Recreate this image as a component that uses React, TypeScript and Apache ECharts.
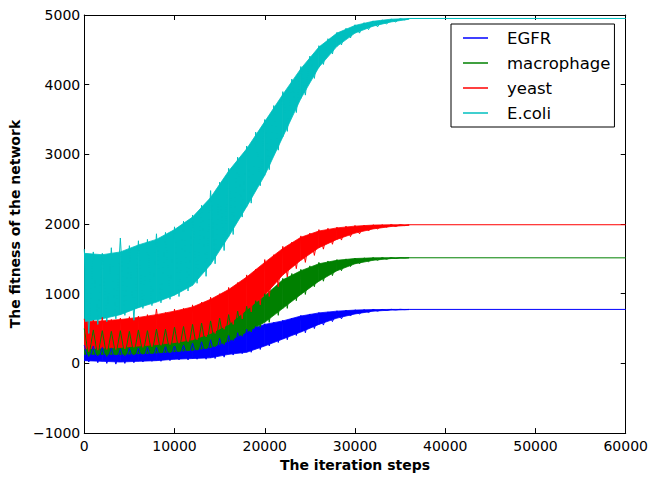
import React, { useEffect, useRef } from "react";
import * as echarts from "echarts";

// iteration steps at which the noisy traces are sampled
const STEPS = [0,500,1000,1500,2000,2500,3000,3500,4000,4500,5000,5500,6000,6500,7000,7500,8000,8500,9000,9500,10000,10500,11000,11500,12000,12500,13000,13500,14000,14500,15000,15500,16000,16500,17000,17500,18000,18500,19000,19500,20000,20500,21000,21500,22000,22500,23000,23500,24000,24500,25000,25500,26000,26500,27000,27500,28000,28500,29000,29500,30000,30500,31000,31500,32000,32500,33000,33500,34000,34500,35000,35500,36000,60000];

// steps at which the envelopes of the noise bands are read
const ENV_STEPS = [0,2000,4000,6000,8000,10000,12000,14000,16000,18000,20000,22000,24000,26000,28000,30000,32000,34000,36000];

const SERIES_NAMES = ["EGFR", "macrophage", "yeast", "E.coli"];

// noisy traces
const EGFR = [260,20,250,10,230,0,220,-10,210,0,220,10,220,20,230,30,230,30,240,40,250,50,260,50,290,60,310,60,340,70,360,90,400,120,440,140,490,160,530,200,570,250,590,300,620,340,650,400,690,440,710,500,730,550,740,600,755,640,765,680,770,710,772,730,775,750,775,760,776,768,776,772,775,775];
const MACROPHAGE = [500,100,480,110,470,100,460,120,470,110,460,120,480,130,470,140,490,150,490,150,520,170,530,180,560,190,580,210,610,240,650,270,700,330,750,390,820,450,900,520,1000,590,1080,690,1220,790,1290,900,1350,990,1400,1100,1450,1180,1470,1260,1490,1330,1500,1390,1510,1430,1515,1460,1518,1480,1518,1495,1518,1505,1518,1512,1516,1515];
const YEAST = [640,170,620,190,660,200,630,200,650,210,670,230,680,230,700,240,780,260,730,270,780,290,790,310,840,340,880,380,950,430,1000,490,1090,560,1160,640,1270,740,1350,840,1490,960,1560,1100,1680,1240,1740,1360,1830,1450,1870,1550,1920,1640,1940,1710,1955,1770,1970,1820,1980,1860,1985,1900,1990,1930,1990,1955,1992,1965,1992,1978,1990,1990];
const ECOLI = [1640,430,1600,560,1580,600,1660,640,1800,690,1690,620,1760,790,1780,830,1860,870,1880,920,1960,960,2040,1040,2130,1150,2270,1250,2480,1430,2600,1620,2800,1850,2960,2100,3120,2300,3320,2550,3500,2780,3700,3060,3900,3330,4080,3600,4260,3850,4410,4090,4560,4290,4660,4440,4750,4570,4810,4670,4860,4740,4890,4790,4915,4830,4930,4870,4942,4900,4948,4930,4950,4950];

// lower / upper envelopes of the noise bands
const EGFR_LO = [40,30,20,30,40,60,70,80,130,160,250,350,450,560,650,710,750,765,772];
const EGFR_HI = [240,220,210,210,220,240,280,330,390,480,560,610,680,725,750,765,772,775,775];
const MACRO_LO = [130,130,130,140,150,170,190,230,320,450,590,790,990,1180,1330,1430,1480,1505,1514];
const MACRO_HI = [480,460,450,460,470,500,540,590,670,790,970,1200,1330,1430,1480,1505,1515,1518,1518];
const YEAST_LO = [210,220,230,250,270,300,340,430,560,770,980,1270,1480,1660,1780,1870,1930,1965,1982];
const YEAST_HI = [600,610,630,660,700,750,810,920,1060,1240,1450,1650,1810,1900,1945,1970,1985,1990,1990];
const ECOLI_LO = [600,640,700,800,880,980,1120,1420,1820,2250,2700,3250,3800,4250,4550,4740,4840,4900,4940];
const ECOLI_HI = [1580,1560,1600,1700,1780,1920,2100,2380,2760,3080,3470,3860,4230,4540,4740,4850,4910,4940,4950];

const X_TICKS = { min: 0, max: 60000, interval: 10000 };
const Y_TICKS = { min: -1000, max: 5000, interval: 1000 };

const COLORS = ["#0000ff", "#008000", "#ff0000", "#00bfbf"];
const FONT = "DejaVu Sans";

function bandSeries(id: string, lo: number[], hi: number[], color: string) {
  const segments = ENV_STEPS.slice(0, -1).map((x, i) => [
    x, lo[i], hi[i], ENV_STEPS[i + 1], lo[i + 1], hi[i + 1],
  ]);
  return {
    name: id + "_band",
    type: "custom",
    silent: true,
    clip: true,
    data: segments,
    encode: { x: [0, 3], y: [1, 2, 4, 5] },
    renderItem: (_params: any, api: any) => {
      const p = [
        api.coord([api.value(0), api.value(1)]),
        api.coord([api.value(3), api.value(4)]),
        api.coord([api.value(3), api.value(5)]),
        api.coord([api.value(0), api.value(2)]),
      ];
      return {
        type: "polygon",
        shape: { points: p },
        style: { fill: color, stroke: color, lineWidth: 0.8 },
      };
    },
  };
}

function traceSeries(name: string, values: number[], color: string) {
  return {
    name,
    type: "line",
    data: STEPS.map((x, i) => [x, values[i]]),
    showSymbol: false,
    silent: true,
    lineStyle: { color, width: 1 },
    itemStyle: { color },
  };
}

const minusFmt = (v: number) => (v < 0 ? "\u2212" + Math.abs(v) : String(v));

export default function App() {
  const ref = useRef<HTMLDivElement>(null);
  useEffect(() => {
    if (!ref.current) return;
    const chart = echarts.init(ref.current, null, { renderer: "svg" });
    const axisCommon = {
      splitLine: { show: false },
      axisLine: { show: true, onZero: false, lineStyle: { color: "#000", width: 1 } },
      axisTick: { show: true, inside: true, length: 5, lineStyle: { color: "#000", width: 1 } },
    };
    const option: any = {
      animation: false,
      backgroundColor: "#fff",
      grid: { left: 83, right: 23, top: 15, bottom: 39, containLabel: false },
      legend: {
        orient: "vertical",
        left: 451,
        top: 24,
        padding: [5, 4, 5, 12],
        itemGap: 7,
        itemWidth: 25,
        itemHeight: 1.5,
        icon: "rect",
        backgroundColor: "#fff",
        borderColor: "#000",
        borderWidth: 1,
        borderRadius: 0,
        data: SERIES_NAMES,
        textStyle: {
          fontFamily: FONT,
          fontSize: 16.5,
          color: "#000",
          lineHeight: 18,
          padding: [0, 0, 0, 14],
        },
      },
      xAxis: [
        {
          type: "value",
          position: "bottom",
          ...X_TICKS,
          ...axisCommon,
          axisLabel: { color: "#000", fontFamily: FONT, fontSize: 14, margin: 6, formatter: minusFmt },
          name: "The iteration steps",
          nameLocation: "middle",
          nameGap: 23,
          nameTextStyle: { fontFamily: FONT, fontWeight: "bold", fontSize: 14, color: "#000" },
        },
        {
          type: "value",
          position: "top",
          ...X_TICKS,
          ...axisCommon,
          axisLabel: { show: false },
        },
      ],
      yAxis: [
        {
          type: "value",
          position: "left",
          ...Y_TICKS,
          ...axisCommon,
          axisLabel: { color: "#000", fontFamily: FONT, fontSize: 14, margin: 4, formatter: minusFmt },
          name: "The fitness of the network",
          nameLocation: "middle",
          nameGap: 51,
          nameTextStyle: { fontFamily: FONT, fontWeight: "bold", fontSize: 14, color: "#000" },
        },
        {
          type: "value",
          position: "right",
          ...Y_TICKS,
          ...axisCommon,
          axisLabel: { show: false },
        },
      ],
      series: [
        bandSeries("egfr", EGFR_LO, EGFR_HI, COLORS[0]),
        traceSeries(SERIES_NAMES[0], EGFR, COLORS[0]),
        bandSeries("macro", MACRO_LO, MACRO_HI, COLORS[1]),
        traceSeries(SERIES_NAMES[1], MACROPHAGE, COLORS[1]),
        bandSeries("yeast", YEAST_LO, YEAST_HI, COLORS[2]),
        traceSeries(SERIES_NAMES[2], YEAST, COLORS[2]),
        bandSeries("ecoli", ECOLI_LO, ECOLI_HI, COLORS[3]),
        traceSeries(SERIES_NAMES[3], ECOLI, COLORS[3]),
      ],
    };
    chart.setOption(option);
    return () => chart.dispose();
  }, []);
  return (
    <div
      ref={ref}
      style={{ position: "fixed", left: 0, top: 0, width: 651, height: 477, background: "#fff" }}
    />
  );
}
